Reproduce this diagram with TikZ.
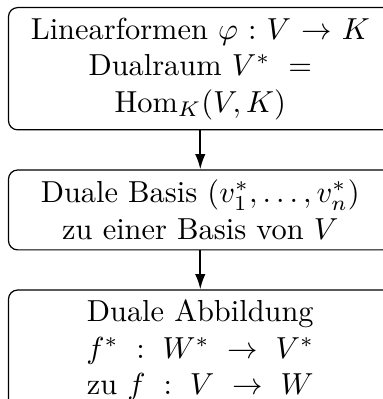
\documentclass[tikz,border=0pt]{standalone}
\usetikzlibrary{arrows.meta,positioning}

\begin{document}
\begin{tikzpicture}[
  box/.style={draw=black, line width=0.4pt, rounded corners=3pt, text width=4.2cm, align=center},
  flow/.style={line width=0.6pt, -{Latex[length=5pt, width=3.4pt]}},
  node distance=0.45cm]
\useasboundingbox (-2.6pt,2.3pt) rectangle (123.06pt,-128.95pt);
\node[box, anchor=north west] (forms) at (0,0) {Linearformen $\varphi: V \to K$\linebreak Dualraum $V^* =\linebreak \mathrm{Hom}_K(V,K)$};
\node[box, below=of forms] (basis) {Duale Basis $(v_1^*,\dots,v_n^*)$ zu einer Basis von $V$};
\node[box, below=of basis] (map) {Duale Abbildung\linebreak $f^*: W^* \to V^*$\linebreak zu $f: V \to W$};
\draw[flow] (forms) -- (basis);
\draw[flow] (basis) -- (map);
\end{tikzpicture}
\end{document}
